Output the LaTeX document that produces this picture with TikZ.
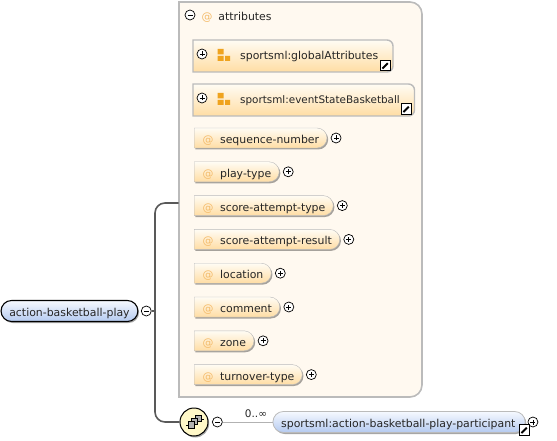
\documentclass[tikz,border=0pt]{standalone}
\usepackage{fontspec}
\setmainfont{DejaVu Sans}
\usetikzlibrary{positioning, shadows, shapes.misc}
\definecolor{panelfill}{HTML}{FFF9F0}
\definecolor{panelline}{HTML}{BBBBBB}
\definecolor{attrtop}{HTML}{FFFCF4}
\definecolor{attrbottom}{HTML}{FFDDA4}
\definecolor{attrmark}{HTML}{F4BC6C}
\definecolor{elemtop}{HTML}{F6F9FF}
\definecolor{elembottom}{HTML}{B4CAF0}
\definecolor{seqfill}{HTML}{FFF8C8}
\definecolor{grouporange}{HTML}{EFA31E}
\tikzset{
    softshadow/.style={drop shadow={shadow xshift=1.2pt, shadow yshift=-1.5pt, fill=black, opacity=0.35}},
    attrpill/.style={rounded rectangle, rounded rectangle left arc=none, draw=panelline, top color=attrtop, bottom color=attrbottom, softshadow, minimum height=20pt, inner xsep=8.5pt, inner ysep=0pt, text height=12pt, text depth=1pt, anchor=west},
    grouptext/.style={inner sep=0pt, anchor=west, text height=12pt, text depth=1pt},
    groupbox/.style={draw=panelline, line width=1.4pt, top color=attrtop, bottom color=attrbottom},
    elempill/.style={rounded rectangle, top color=elemtop, bottom color=elembottom, softshadow, minimum height=21pt, inner xsep=6pt, inner ysep=0pt, text height=12pt, text depth=1pt},
    expandplus/.style={circle, draw=black, fill=white, line width=0.7pt, minimum size=10pt, inner sep=0pt, path picture={
        \draw[line width=0.7pt] ([xshift=2.5pt]path picture bounding box.west) -- ([xshift=-2.5pt]path picture bounding box.east);
        \draw[line width=0.7pt] ([yshift=2.5pt]path picture bounding box.south) -- ([yshift=-2.5pt]path picture bounding box.north);}},
    expandminus/.style={circle, draw=black, fill=white, line width=0.7pt, minimum size=10pt, inner sep=0pt, path picture={
        \draw[line width=0.7pt] ([xshift=2.5pt]path picture bounding box.west) -- ([xshift=-2.5pt]path picture bounding box.east);}},
    linkbox/.style={rectangle, draw=black, fill=white, line width=1.2pt, minimum size=10.5pt, inner sep=0pt, path picture={
        \fill ([shift={(-1.2pt,-1.2pt)}]path picture bounding box.north east) -- ++(-6pt,0pt) -- ++(6pt,-6pt) -- cycle;
        \draw[line width=1.8pt] ([shift={(-3pt,-3pt)}]path picture bounding box.north east) -- ([shift={(2.2pt,2.2pt)}]path picture bounding box.south west);}},
    branch/.style={draw=black!65, line width=1.6pt},
    thinlink/.style={draw=black!30, line width=0.8pt},
    seqblock/.style={draw=black, fill=black!30, line width=0.8pt}
}
\newcommand{\attrname}[1]{\textcolor{attrmark}{@}\hspace{6.5pt}#1\kern-3pt}
\begin{document}
\begin{tikzpicture}[x=1pt, y=-1pt, font=\fontsize{10.9}{13}\selectfont, text=black!85]
    \useasboundingbox (0,0) rectangle (557,441);

    \path[draw=panelline, line width=1.6pt, fill=panelfill] (179,2) -- (408,2) [rounded corners=12pt] -- (422,2) -- (422,397) [sharp corners] -- (179,397) -- cycle;
    \shade[left color=panelfill, middle color=black!22, right color=panelfill] (181,28) rectangle (362,30.5);

    \node[expandminus] (attrsminus) at (190,15) {};
    \node[grouptext, anchor=center, text=attrmark] (attrsmark) at (207,15) {@};
    \node[grouptext, right=5.5pt of attrsmark] (attrslabel) {attributes};

    \path[groupbox] (193,72) -- (193,40) -- (382,40) [rounded corners=6pt] -- (393,40) -- (393,72) [sharp corners] -- cycle;
    \node[expandplus] (globalplus) at (202,54) {};
    \node[grouptext] (globallabel) at (240,54) {sportsml:globalAttributes};
    \node[linkbox] (globallink) at (385.5,65.5) {};
    \fill[grouporange] (217.5,49) rectangle (223.5,54.5) (217.5,56) rectangle (223.5,61) (225,56) rectangle (230,61);

    \path[groupbox] (193,116) -- (193,84) -- (404,84) [rounded corners=6pt] -- (414.5,84) -- (414.5,116) [sharp corners] -- cycle;
    \node[expandplus] (eventplus) at (202,98) {};
    \node[grouptext, font=\fontsize{10.4}{13}\selectfont] (eventlabel) at (240,98) {sportsml:eventStateBasketball};
    \node[linkbox] (eventlink) at (406.5,109) {};
    \fill[grouporange] (217.5,93) rectangle (223.5,98.5) (217.5,100) rectangle (223.5,105) (225,100) rectangle (230,105);

    \node[attrpill] (seqnumber) at (194,138) {\attrname{sequence-number}};
    \node[attrpill, below=13.4pt of seqnumber.south west, anchor=north west] (playtype) {\attrname{play-type}};
    \node[attrpill, below=13.4pt of playtype.south west, anchor=north west] (scoretype) {\attrname{score-attempt-type}};
    \node[attrpill, below=13.4pt of scoretype.south west, anchor=north west] (scoreresult) {\attrname{score-attempt-result}};
    \node[attrpill, below=13.4pt of scoreresult.south west, anchor=north west] (location) {\attrname{location}};
    \node[attrpill, below=13.4pt of location.south west, anchor=north west] (comment) {\attrname{comment}};
    \node[attrpill, below=13.4pt of comment.south west, anchor=north west] (zone) {\attrname{zone}};
    \node[attrpill, below=13.4pt of zone.south west, anchor=north west] (turnover) {\attrname{turnover-type}};

    \node[expandplus, right=3.5pt of seqnumber] (seqnumberplus) {};
    \node[expandplus, right=3.5pt of playtype] (playtypeplus) {};
    \node[expandplus, right=3.5pt of scoretype] (scoretypeplus) {};
    \node[expandplus, right=3.5pt of scoreresult] (scoreresultplus) {};
    \node[expandplus, right=3.5pt of location] (locationplus) {};
    \node[expandplus, right=3.5pt of comment] (commentplus) {};
    \node[expandplus, right=3.5pt of zone] (zoneplus) {};
    \node[expandplus, right=3.5pt of turnover] (turnoverplus) {};

    \node[elempill, draw=black, line width=1.1pt, anchor=west] (root) at (0.5,311) {action-basketball-play};
    \node[expandminus, right=2.5pt of root] (rootminus) {};

    \node[circle, draw=black, fill=seqfill, line width=1pt, minimum size=28pt, inner sep=0pt, softshadow] (sequence) at (194,422) {};
    \draw[black, line width=0.9pt] (186,425) -- (190,425) (196,419) -- (204,419);
    \draw[seqblock] (195,415) rectangle (201,421);
    \draw[seqblock] (191.5,418) rectangle (197.5,424);
    \draw[seqblock] (188.5,421.5) rectangle (194.5,428);
    \node[expandminus, right=3.5pt of sequence] (sequenceminus) {};

    \node[elempill, draw=panelline, line width=0.8pt, anchor=west] (participant) at (272.5,422) {sportsml:action-basketball-play-participant\kern1.5pt};
    \node[expandplus, right=2pt of participant] (participantplus) {};
    \node[linkbox] (participantlink) at (524.5,430) {};
    \node[inner sep=0pt, font=\fontsize{10.5}{12}\selectfont] (occurs) at (256,413.5) {0..∞};

    \coordinate (trunk) at (155,311);
    \coordinate (attrsentry) at (178.5,203);
    \draw[branch] (rootminus.east) -- (trunk);
    \draw[branch, rounded corners=10pt] (attrsentry) -| (trunk) |- (sequence.west);
    \draw[thinlink] (sequenceminus.east) -- (participant.west);
\end{tikzpicture}
\end{document}
